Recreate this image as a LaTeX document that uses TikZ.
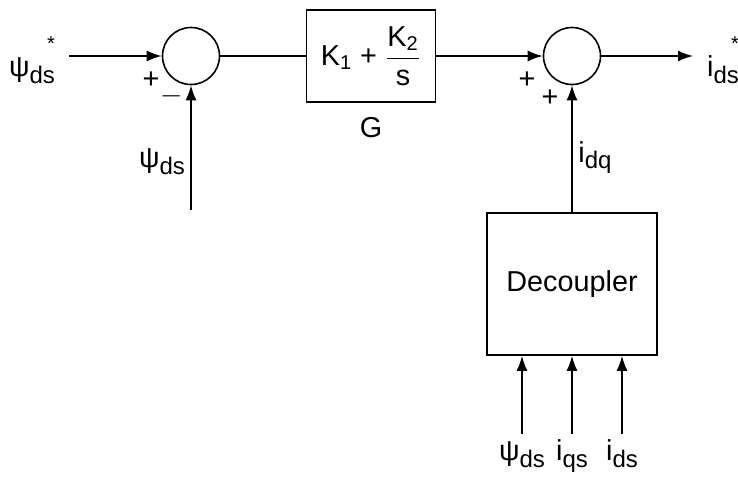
\documentclass[tikz,border=0pt]{standalone}
\usepackage{amsmath}
\usepackage{fontspec}
\setmainfont{Liberation Sans}
\usepackage{tikz}
\usetikzlibrary{arrows.meta, positioning}
\newcommand{\sig}[3][]{#2\raisebox{-0.45ex}{\large #3}\llap{\raisebox{1.7ex}{\normalsize #1}}}

\begin{document}
\begin{tikzpicture}[
    x=0.5pt, y=-0.5pt,
    sumnode/.style={circle, draw, line width=0.8pt, minimum size=28.5pt, inner sep=0pt},
    block/.style={rectangle, draw, line width=0.8pt, align=center, font=\Large},
    sig/.style={inner sep=0pt, font=\Large},
    sign/.style={inner sep=0pt, font=\Large},
    arrow/.style={line width=0.8pt, -{Latex[length=7.5pt, width=5.5pt]}},
    line/.style={line width=0.8pt}
]
    \useasboundingbox (0,0) rectangle (738,477);

    \node (sum1) [sumnode] at (191,56) {};
    \node (G) [block, minimum width=64.5pt, minimum height=46pt] at (371,56) {\text{K}$_{\text{1}}$ + $\dfrac{\text{K}_{\text{2}}}{\text{s}}$};
    \node (Glab) [sig] at (371,128) {G};
    \node (sum2) [sumnode] at (572,56) {};
    \node (dec) [block, minimum width=85pt, minimum height=71pt] at (572,284) {Decoupler};

    \node (ref) [sig] at (32,60) {\sig[*]{ψ}{ds}};
    \coordinate (in) at (69,56);
    \node (fblab) [sig] at (162,158) {\sig{ψ}{ds}};
    \coordinate (fb) at (191,210);
    \coordinate (out) at (693,56);
    \node (outlab) [sig] at (723,60) {\sig[*]{i}{ds}};
    \node (idq) [sig] at (595,155) {\sig{i}{dq}};

    \node [sign] at (151,80) {+};
    \node [sign] at (172,96) {$-$};
    \node [sign] at (527,80) {+};
    \node [sign] at (550,98) {+};

    \draw [arrow] (in) -- (sum1);
    \draw [arrow] (fb) -- (sum1.south);
    \draw [line] (sum1) -- (G);
    \draw [arrow] (G) -- (sum2);
    \draw [arrow] (sum2) -- (out);
    \draw [arrow] (dec.north) -- (sum2.south);

    \foreach \dx/\name/\base/\sub in {-50/psi/ψ/ds, 0/iqs/i/qs, 50/ids/i/ds} {
        \coordinate (\name) at ([xshift=\dx*0.5pt, yshift=-39pt]dec.south);
        \node (\name lab) [sig, anchor=base] at ([yshift=-13.5pt]\name) {\sig{\base}{\sub}};
        \draw [arrow] (\name) -- ([xshift=\dx*0.5pt]dec.south);
    }
\end{tikzpicture}
\end{document}
